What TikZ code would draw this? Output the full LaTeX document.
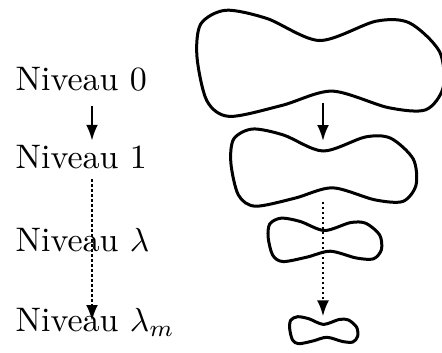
\documentclass[tikz,border=0pt]{standalone}
\usepackage{amsmath,amssymb}
\usetikzlibrary{arrows.meta,calc}

\tikzset{
  lvl/.style={anchor=base west, inner sep=0pt, font=\fontsize{10.2}{12}\selectfont},
  blobline/.style={line width=0.9pt, line join=round},
  arr/.style={line width=0.75pt, -{Latex[length=4.8pt, width=3.6pt]}},
  dotarr/.style={arr, dash pattern=on 0.8pt off 0.7pt}
}

\begin{document}
\begin{tikzpicture}[x=0.3pt, y=-0.3pt]
  \useasboundingbox (0,0) rectangle (442,352);

  % Level labels on the left
  \node[lvl] (L0) at (15,90)  {Niveau 0};
  \node[lvl] (L1) at (15,168) {Niveau 1};
  \node[lvl] (Ll) at (15,251) {Niveau $\lambda$};
  \node[lvl] (Lm) at (15,331) {Niveau $\lambda_m$};
  \coordinate (ax) at (92,0);

  \draw[arr, shorten <=4.5pt, shorten >=1pt] (L0.south -| ax) -- (L1.north -| ax);
  \draw[dotarr, shorten <=3pt] (L1.south -| ax) -- ($(Lm.base -| ax)+(0,-10)$);

  % Shrinking domains on the right
  \foreach \name/\cx/\cy/\hw/\hh in {
    b0/319.5/62.5/125/55,
    b1/323/167/94/40,
    b2/324.5/239.5/57.5/22.5,
    b3/323.5/330/34.5/14%
  } {
    \begin{scope}[shift={(\cx,\cy)}, xscale=\hw, yscale=\hh]
      \draw[blobline] plot[smooth cycle] coordinates {
        (-0.75,-0.95) (-0.95,-0.7) (-0.98,-0.1) (-0.9,0.7) (-0.72,0.98)
        (-0.3,0.78) (0.1,0.52) (0.55,0.82) (0.85,0.86) (0.99,0.45)
        (0.96,-0.2) (0.72,-0.72) (0.45,-0.75) (0,-0.4) (-0.42,-0.8)};
      \coordinate (\name-top) at (0,-0.4);
      \coordinate (\name-bot) at (0.05,0.52);
    \end{scope}
  }
  \coordinate (rx) at (323,0);

  \draw[arr, shorten <=3.6pt, shorten >=3pt] (b0-bot -| rx) -- (b1-top -| rx);
  \draw[dotarr, shorten <=4.2pt, shorten >=2.4pt] (b1-bot -| rx) -- (b3-top -| rx);
\end{tikzpicture}
\end{document}
